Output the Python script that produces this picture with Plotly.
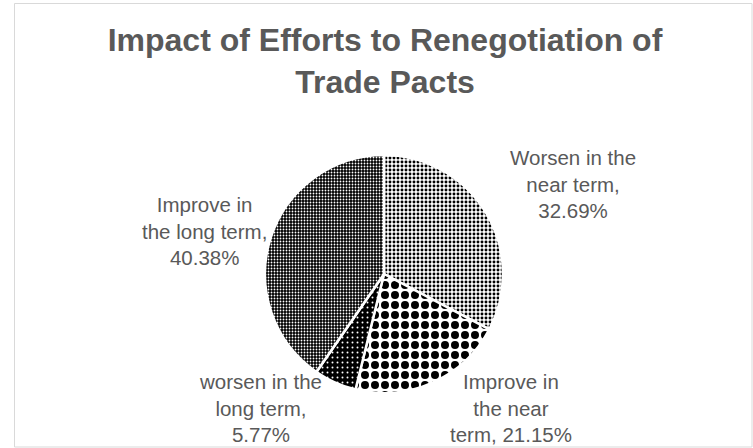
import plotly.graph_objects as go

# ---- data ----
labels = ["Worsen in the near term", "Improve in the near term",
          "worsen in the long term", "Improve in the long term"]
values = [17, 11, 3, 21]
# wrapped label text as shown on the chart (percentage appended)
label_wrap = ["Worsen in the<br>near term,<br>",
              "Improve in<br>the near<br>term, ",
              "worsen in the<br>long term,<br>",
              "Improve in<br>the long term,<br>"]
title_text = "Impact of Efforts to Renegotiation of<br>Trade Pacts"

# ---- styles ----
pat_shape = [".", ".", ".", "."]
pat_fg = ["#000000", "#000000", "#ffffff", "#ffffff"]
pat_bg = ["#ffffff", "#ffffff", "#000000", "#000000"]
pat_size = [4, 10, 5, 3]
pat_solid = [0.42, 0.5, 0.12, 0.3]
label_pos = [(573, 184), (511, 408), (260, 408), (205, 231)]  # pixel centres

W, H = 753, 448
total = sum(values)
pcts = [f"{v / total * 100:.2f}%" for v in values]
FONT = "Liberation Sans, Arial, sans-serif"

cx, cy, r = 384, 274, 119
fig = go.Figure(go.Pie(
    labels=labels, values=values, sort=False, direction="clockwise",
    rotation=0, textinfo="none", hoverinfo="label+percent",
    marker=dict(colors=pat_bg,
                line=dict(color="white", width=2.5),
                pattern=dict(shape=pat_shape, fgcolor=pat_fg, bgcolor=pat_bg,
                             size=pat_size, solidity=pat_solid, fillmode="replace")),
    domain=dict(x=[(cx - r) / W, (cx + r) / W],
                y=[(H - cy - r) / H, (H - cy + r) / H]),
    showlegend=False,
))

annotations = []
for txt, pct, (px, py) in zip(label_wrap, pcts, label_pos):
    annotations.append(dict(
        text=txt + pct, x=px / W, y=1 - py / H, xref="paper", yref="paper",
        xanchor="center", yanchor="middle", align="center", showarrow=False,
        font=dict(family=FONT, size=20.5, color="#595959"),
    ))

fig.update_layout(
    width=W, height=H, margin=dict(l=0, r=0, t=0, b=0),
    paper_bgcolor="white", plot_bgcolor="white",
    title=dict(text=title_text, x=385 / W, xanchor="center", y=1 - 51 / H, yanchor="middle",
               font=dict(family=FONT, size=32, color="#595959", weight="bold")),
    annotations=annotations,
    shapes=[dict(type="rect", xref="paper", yref="paper",
                 x0=14.5 / W, x1=752 / W, y0=1 - 447 / H, y1=1 - 3.5 / H,
                 line=dict(color="#d9d9d9", width=1))],
)

fig.write_html("out.html", config={"displayModeBar": False},
               post_script="document.body.style.margin='0';")
